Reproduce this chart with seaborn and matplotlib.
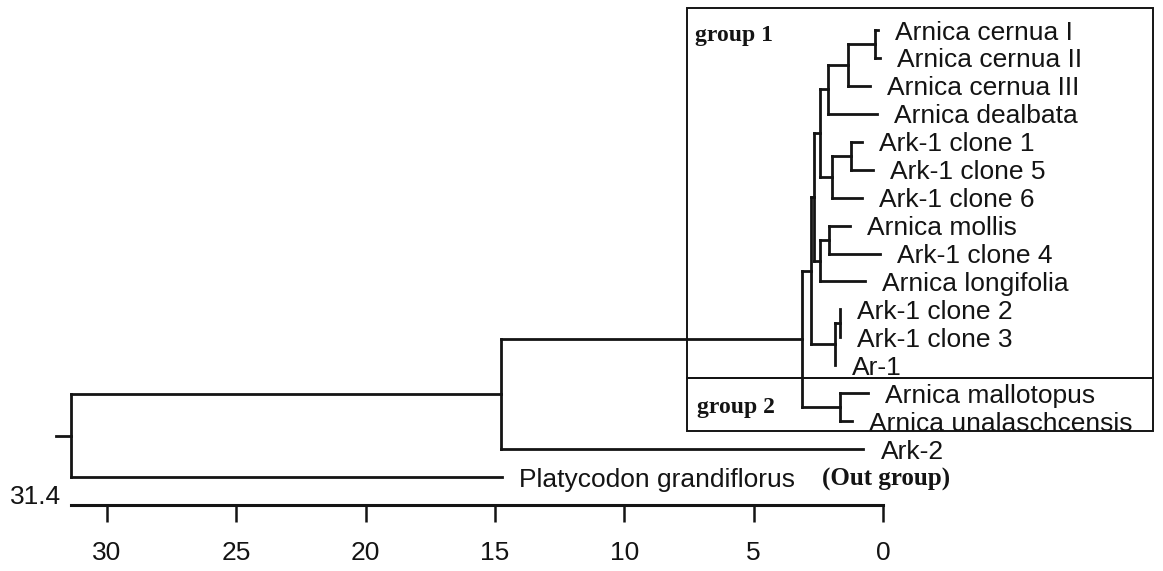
import numpy as np
import pandas as pd
import matplotlib
matplotlib.use("Agg")
import matplotlib.pyplot as plt
from matplotlib.patches import Rectangle
import seaborn as sns

# ---- tree data -------------------------------------------------------------
leaf_names = [
    "Arnica cernua I", "Arnica cernua II", "Arnica cernua III", "Arnica dealbata",
    "Ark-1 clone 1", "Ark-1 clone 5", "Ark-1 clone 6", "Arnica mollis",
    "Ark-1 clone 4", "Arnica longifolia", "Ark-1 clone 2", "Ark-1 clone 3",
    "Ar-1", "Arnica mallotopus", "Arnica unalaschcensis", "Ark-2",
    "Platycodon grandiflorus",
]
leaf_heights = [0.19, 0.12, 0.50, 0.23, 0.81, 0.39, 0.81, 1.28,
                0.12, 0.70, 1.66, 1.66, 1.86, 0.58, 1.20, 0.77, 14.73]

# internal nodes, children given as leaf indices or names of earlier nodes
node_names = ["cer12", "cer123", "cer_dea", "ark15", "ark156", "cladeA",
              "mol_ark4", "cladeB", "cladeAB", "ark23", "cladeC", "group1",
              "group2", "arnica", "ingroup", "root"]
node_children = [[0, 1], ["cer12", 2], ["cer123", 3], [4, 5], ["ark15", 6],
                 ["cer_dea", "ark156"], [7, 8], ["mol_ark4", 9],
                 ["cladeA", "cladeB"], [10, 11], ["ark23", 12],
                 ["cladeAB", "cladeC"], [13, 14], ["group1", "group2"],
                 ["arnica", 15], ["ingroup", 16]]
node_heights = [0.31, 1.35, 2.13, 1.24, 1.97, 2.44, 2.09, 2.44, 2.67,
                1.66, 1.86, 2.78, 1.66, 3.13, 14.77, 31.4]

scale_ticks = [30, 25, 20, 15, 10, 5, 0]
scale_max = 31.4

INK = "#141414"

# ---- layout of the dendrogram ----------------------------------------------
xpos = {i: h for i, h in enumerate(leaf_heights)}
ypos = {i: float(i) for i in range(len(leaf_names))}
rows = []
seg = 0


def add_segment(x0, y0, x1, y1):
    global seg
    rows.append((x0, y0, seg))
    rows.append((x1, y1, seg))
    seg += 1


for name, children, h in zip(node_names, node_children, node_heights):
    ys = [ypos[c] for c in children]
    ypos[name] = (min(ys) + max(ys)) / 2
    xpos[name] = h
    add_segment(h, min(ys), h, max(ys))
    for c in children:
        add_segment(h, ypos[c], xpos[c], ypos[c])

# short stub leading into the root
add_segment(scale_max + 0.55, ypos["root"], scale_max, ypos["root"])

segments = pd.DataFrame(rows, columns=["dist", "row", "seg"])

# ---- figure ------------------------------------------------------------------
sns.set_style("white")
plt.rcParams["font.family"] = ["Liberation Sans", "DejaVu Sans"]

fig = plt.figure(figsize=(11.63, 5.71), dpi=100)
ax = fig.add_axes([0, 0, 1, 1])

sns.lineplot(data=segments, x="dist", y="row", units="seg", estimator=None,
             sort=False, color=INK, lw=2.0, ax=ax, legend=False)
for ln in ax.lines:
    ln.set_solid_capstyle("projecting")

# leaf labels
for i, name in enumerate(leaf_names):
    t = ax.annotate(name, xy=(leaf_heights[i], i), xytext=(12.5, 0),
                    textcoords="offset points", ha="left",
                    va="center_baseline", fontsize=19, color=INK)
    if i == len(leaf_names) - 1:
        ax.annotate("(Out group)", xy=(1, 0.5), xycoords=t, xytext=(19, 0),
                    textcoords="offset points", ha="left", va="center",
                    fontsize=18, fontweight="bold", color=INK,
                    family=["Liberation Serif", "DejaVu Serif"])

# group boxes
box_left, box_right = 7.58, -10.44
ax.add_patch(Rectangle((box_left, -0.79), box_right - box_left, 12.455 + 0.79,
                       fill=False, ec=INK, lw=1.4))
ax.add_patch(Rectangle((box_left, 12.455), box_right - box_left, 14.35 - 12.455,
                       fill=False, ec=INK, lw=1.4))
ax.text(7.27, 0.39, "group 1", fontsize=17, fontweight="bold", color=INK,
        family=["Liberation Serif", "DejaVu Serif"], va="baseline")
ax.text(7.19, 13.71, "group 2", fontsize=17, fontweight="bold", color=INK,
        family=["Liberation Serif", "DejaVu Serif"], va="baseline")

# distance scale along the bottom
ax.set_xlim(34.13, -10.82)
ax.set_ylim(19.363, -1.074)
for side in ["left", "right", "top"]:
    ax.spines[side].set_visible(False)
ax.spines["bottom"].set_position(("data", 17.0))
ax.spines["bottom"].set_bounds(0, scale_max)
ax.spines["bottom"].set_linewidth(2.2)
ax.spines["bottom"].set_color(INK)
ax.set_xticks(scale_ticks)
ax.set_xticklabels([str(t) for t in scale_ticks])
ax.tick_params(axis="x", bottom=True, direction="out", length=12, width=1.8,
               pad=14, labelsize=19, colors=INK)
ax.set_yticks([])
ax.set_xlabel("")
ax.set_ylabel("")
ax.annotate(f"{scale_max}", xy=(scale_max, 17.0), xytext=(-6.5, 5.8),
            textcoords="offset points", ha="right", va="center",
            fontsize=19, color=INK)

fig.savefig("out.png", dpi=100, facecolor="white")
